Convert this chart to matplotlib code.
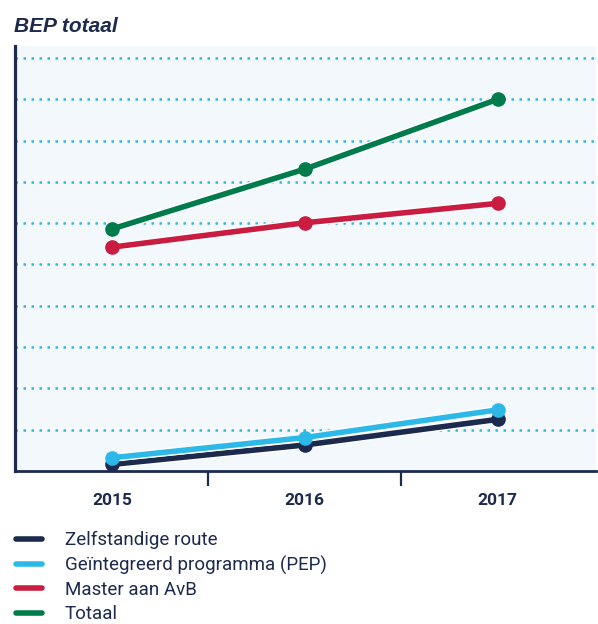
import matplotlib
matplotlib.use("Agg")
import matplotlib.pyplot as plt
from matplotlib.lines import Line2D
import matplotlib.patheffects as pe

plt.rcParams['font.family'] = ['Liberation Sans Narrow', 'Roboto', 'DejaVu Sans']

years = ["2015", "2016", "2017"]
zelfstandig = [0.16, 0.63, 1.25]
pep = [0.32, 0.81, 1.48]
master = [5.42, 6.01, 6.48]
totaal = [5.86, 7.31, 9.0]
series_names = ["Zelfstandige route", "Geïntegreerd programma (PEP)", "Master aan AvB", "Totaal"]
title = "BEP totaal"

NAVY = "#1c2a4e"
LBLUE = "#2db9e8"
RED = "#c81c40"
GREEN = "#007b4c"
BG = "#f3f8fd"

fig = plt.figure(figsize=(5.98, 6.24), dpi=100)
W, H = 598, 624
ax = fig.add_axes([14.7 / W, (H - 471) / H, (596 - 14.7) / W, (471 - 46) / H])
ax.set_facecolor(BG)

x = list(range(len(years)))
series = [zelfstandig, pep, master, totaal]
colors = [NAVY, LBLUE, RED, GREEN]
for vals, c in zip(series, colors):
    ax.plot(x, vals, color=c, lw=4.0, solid_capstyle='round', zorder=3,
            path_effects=[pe.Stroke(linewidth=6.0, foreground='white'), pe.Normal()])
    ax.plot(x, vals, color=c, lw=0, marker='o', markersize=9.5, zorder=3)

ax.set_xlim(-0.505, 2.51)
ax.set_ylim(0, 10.29)
ax.set_yticks(range(1, 11))
ax.yaxis.grid(True, color=LBLUE, linestyle=(0, (1, 2.2)), linewidth=1.8, zorder=1)
ax.set_axisbelow(True)
ax.tick_params(axis='y', left=False, labelleft=False)

ax.set_xticks(x)
ax.set_xticklabels(years, fontsize=12.5, fontweight='bold', color=NAVY)
ax.set_xticks([0.5, 1.5], minor=True)
ax.tick_params(axis='x', which='major', length=0, pad=16)
ax.tick_params(axis='x', which='minor', length=11, width=1.6, color=NAVY, direction='out')

for s in ['top', 'right']:
    ax.spines[s].set_visible(False)
ax.spines['left'].set_color(NAVY)
ax.spines['left'].set_linewidth(2.3)
ax.spines['bottom'].set_color(NAVY)
ax.spines['bottom'].set_linewidth(2.0)

fig.text(14 / W, 1 - 27 / H, title, fontsize=15, fontweight='bold', fontstyle='italic',
         color=NAVY, va='center', ha='left', family=['Liberation Sans', 'DejaVu Sans'])

handles = [Line2D([0], [0], color=c, lw=4.0, solid_capstyle='round') for c in colors]
fig.legend(handles, series_names, loc='upper left', bbox_to_anchor=(16 / W, 1 - 531 / H),
           frameon=False, fontsize=13.5, labelcolor=NAVY, handlelength=1.39,
           handletextpad=1.2, labelspacing=0.34, borderaxespad=0, borderpad=0)

fig.savefig("out.png", dpi=100, facecolor='white')
